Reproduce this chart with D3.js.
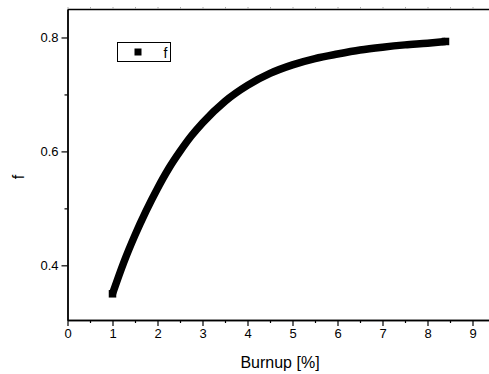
<!DOCTYPE html>
<html>
<head>
<meta charset="utf-8">
<script src="https://cdn.jsdelivr.net/npm/d3@7"></script>
<style>
  body { margin: 0; background: #fff; }
  svg { display: block; font-family: Arial, "Liberation Sans", sans-serif; }
</style>
</head>
<body>
<div id="chart"></div>
<script>
// values
var burnup = [1.0, 1.25, 1.5, 1.75, 2.0, 2.25, 2.5, 2.75, 3.0, 3.5, 4.0, 4.5, 5.0, 5.5, 6.0, 6.5, 7.0, 7.5, 8.0, 8.4];
var fValues = [0.350, 0.405, 0.453, 0.496, 0.535, 0.570, 0.600, 0.627, 0.650, 0.688, 0.716, 0.737, 0.752, 0.763, 0.771, 0.778, 0.783, 0.787, 0.790, 0.793];
var xTicks = [0, 1, 2, 3, 4, 5, 6, 7, 8, 9];
var yTicks = [0.4, 0.6, 0.8];
var seriesName = "f";

var svgWidth = 489;
var svgHeight = 374;

var margin = { top: 9, right: -6, bottom: 54, left: 67.5 };
var width = svgWidth - margin.left - margin.right;
var height = svgHeight - margin.top - margin.bottom;

var svg = d3.select("#chart")
  .append("svg")
  .attr("width", svgWidth)
  .attr("height", svgHeight);

var chartGroup = svg.append("g")
  .attr("transform", `translate(${margin.left}, ${margin.top})`);

var xScale = d3.scaleLinear().domain([0, 9.5]).range([0, width]);
var yScale = d3.scaleLinear().domain([0.304, 0.85]).range([height, 0]);

var data = burnup.map(function(b, i) { return { x: b, y: fValues[i] }; });

// minor ticks
var xMinor = d3.range(0.5, 9.5, 1);
var yMinor = [0.5, 0.7];

var bottomAxis = d3.axisBottom(xScale).tickValues(xTicks).tickSize(6).tickSizeOuter(0).tickPadding(3)
  .tickFormat(d3.format("d"));
var leftAxis = d3.axisLeft(yScale).tickValues(yTicks).tickSize(6).tickSizeOuter(0).tickPadding(3)
  .tickFormat(d3.format(".1f"));

var xg = chartGroup.append("g")
  .attr("transform", `translate(0, ${height})`)
  .call(bottomAxis);
xg.selectAll(".tick text").attr("font-size", "13px").attr("fill", "#000");

var yg = chartGroup.append("g").call(leftAxis);
yg.selectAll(".tick text").attr("font-size", "13px").attr("fill", "#000");

chartGroup.append("g")
  .attr("transform", `translate(0, ${height})`)
  .call(d3.axisBottom(xScale).tickValues(xMinor).tickSize(3).tickSizeOuter(0).tickFormat(""));
chartGroup.append("g")
  .call(d3.axisLeft(yScale).tickValues(yMinor).tickSize(3).tickSizeOuter(0).tickFormat(""));

// top frame line, its ticks are mostly cut off by the picture edge
chartGroup.append("g")
  .call(d3.axisTop(xScale).tickValues(d3.range(0, 9.5, 0.5)).tickSize(2).tickSizeOuter(0).tickFormat(""))
  .selectAll(".tick line").attr("stroke", "#aaa");

chartGroup.selectAll(".domain").attr("stroke", "#000").attr("stroke-width", 1.4);
chartGroup.selectAll(".tick line").filter(function() { return this.getAttribute("stroke") !== "#aaa"; })
  .attr("stroke", "#000").attr("stroke-width", 1.2);

// axis titles
svg.append("text")
  .attr("x", 280)
  .attr("y", 368)
  .attr("text-anchor", "middle")
  .attr("font-size", "16px")
  .text("Burnup [%]");

svg.append("text")
  .attr("transform", "rotate(-90)")
  .attr("x", -177)
  .attr("y", 24)
  .attr("text-anchor", "middle")
  .attr("font-size", "16px")
  .text("f");

// the series: dense square markers look like a thick band
var line = d3.line()
  .x(function(d) { return xScale(d.x); })
  .y(function(d) { return yScale(d.y); })
  .curve(d3.curveMonotoneX);

chartGroup.append("path")
  .datum(data)
  .attr("d", line)
  .attr("fill", "none")
  .attr("stroke", "#000")
  .attr("stroke-width", 7.5)
  .attr("stroke-linejoin", "round");

var sq = 7.5;
chartGroup.selectAll("rect.marker")
  .data([data[0], data[data.length - 1]])
  .enter()
  .append("rect")
  .attr("class", "marker")
  .attr("x", function(d) { return xScale(d.x) - sq / 2; })
  .attr("y", function(d) { return yScale(d.y) - sq / 2; })
  .attr("width", sq)
  .attr("height", sq)
  .attr("fill", "#000");

// legend
var legend = svg.append("g").attr("transform", "translate(117.5, 42.5)");
legend.append("rect")
  .attr("width", 53)
  .attr("height", 19)
  .attr("fill", "#fff")
  .attr("stroke", "#000")
  .attr("stroke-width", 1);
legend.append("rect")
  .attr("x", 17)
  .attr("y", 6)
  .attr("width", 7)
  .attr("height", 7)
  .attr("fill", "#000");
legend.append("text")
  .attr("x", 46)
  .attr("y", 15)
  .attr("font-size", "14px")
  .text(seriesName);
</script>
</body>
</html>
